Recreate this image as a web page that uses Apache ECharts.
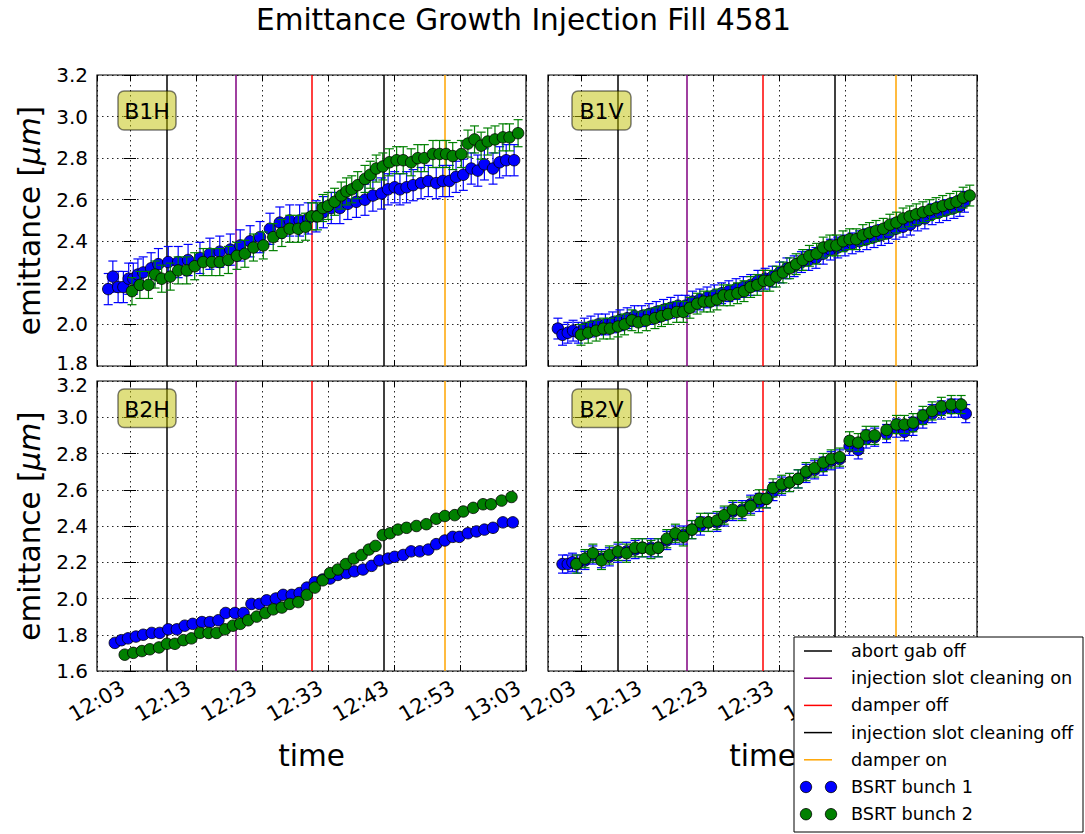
<!DOCTYPE html>
<html>
<head>
<meta charset="utf-8">
<title>Emittance Growth Injection Fill 4581</title>
<script src="https://cdn.jsdelivr.net/npm/echarts@6/dist/echarts.min.js"></script>
<style>
  html, body { margin: 0; padding: 0; background: #ffffff; }
  #chart { width: 1085px; height: 834px; }
</style>
</head>
<body>
<div id="chart"></div>
<script>
// Time is expressed in minutes after 12:03.

// B1H
const b1hTime1 = [-3.3,-2.6,-1.8,-1.0,-0.2,0.5,1.2,2.0,3.2,4.3,5.8,7.3,8.8,10.6,12.1,13.6,15.2,16.7,18.2,19.7,21.2,22.7,24.2,25.7,27.0,28.2,29.3,30.5,31.8,33.0,34.3,35.6,36.8,38.1,39.1,40.1,40.9,41.9,42.9,44.1,45.2,46.4,47.4,48.4,49.4,50.5,51.7,52.7,53.7,55.0,56.0,57.0,58.2];
const b1hBunch1 = [2.17,2.23,2.18,2.18,2.22,2.22,2.24,2.25,2.27,2.29,2.30,2.30,2.31,2.32,2.34,2.35,2.36,2.38,2.40,2.42,2.46,2.49,2.50,2.50,2.51,2.52,2.54,2.56,2.56,2.58,2.59,2.60,2.62,2.63,2.65,2.66,2.65,2.66,2.67,2.68,2.69,2.68,2.69,2.69,2.71,2.72,2.75,2.74,2.77,2.75,2.78,2.79,2.79];
const b1hTime2 = [0.3,1.5,2.8,3.8,4.8,6.1,7.3,8.6,9.8,11.1,12.4,13.6,14.9,16.2,17.4,18.7,20.2,21.7,23.0,24.2,25.5,26.6,27.5,28.4,29.2,30.0,31.0,32.0,32.8,33.6,34.5,35.6,36.4,37.3,38.3,39.3,40.4,41.4,42.6,43.6,44.6,45.9,46.9,47.9,48.9,50.2,51.2,52.2,53.2,54.2,55.3,56.5,57.5,58.8];
const b1hBunch2 = [2.16,2.19,2.19,2.24,2.22,2.23,2.26,2.26,2.28,2.30,2.30,2.30,2.31,2.33,2.34,2.37,2.38,2.42,2.44,2.46,2.46,2.47,2.52,2.52,2.56,2.57,2.59,2.62,2.64,2.65,2.67,2.70,2.72,2.75,2.76,2.78,2.79,2.79,2.78,2.80,2.80,2.82,2.82,2.82,2.81,2.82,2.87,2.89,2.86,2.88,2.89,2.90,2.90,2.92];

// B1V
const b1vTime1 = [-3.5,-2.8,-2.0,-1.2,-0.4,0.5,1.5,2.6,3.7,4.8,5.9,7.0,8.1,9.2,10.3,11.4,12.5,13.6,14.7,15.8,16.9,18.0,19.1,20.2,21.3,22.4,23.5,24.6,25.7,26.8,27.9,29.0,30.1,31.2,32.3,33.4,34.5,35.6,36.7,37.8,38.9,40.0,41.1,42.2,43.3,44.4,45.5,46.6,47.7,48.8,49.9,51.0,52.1,53.2,54.3,55.4,56.5,57.4,58.1];
const b1vBunch1 = [1.98,1.95,1.96,1.97,1.96,1.98,1.99,2.00,2.00,2.01,2.02,2.03,2.04,2.04,2.05,2.06,2.07,2.08,2.09,2.09,2.11,2.12,2.13,2.14,2.15,2.16,2.17,2.18,2.19,2.21,2.22,2.23,2.25,2.27,2.28,2.30,2.31,2.32,2.34,2.36,2.37,2.38,2.39,2.40,2.41,2.42,2.43,2.44,2.46,2.47,2.48,2.50,2.51,2.53,2.54,2.55,2.56,2.57,2.59];
const b1vTime2 = [0.0,1.1,2.3,3.4,4.4,5.6,6.6,7.7,8.7,9.9,11.2,12.2,13.2,14.5,15.5,16.5,17.6,18.6,19.6,20.6,21.6,22.6,23.7,24.7,25.7,26.7,27.7,28.6,29.6,30.6,31.6,32.6,33.6,34.6,35.7,36.7,37.7,38.7,39.7,40.7,41.7,42.7,43.7,44.7,45.8,46.8,47.8,48.8,49.8,50.8,51.8,52.8,53.8,54.8,55.9,56.9,57.9,58.9];
const b1vBunch2 = [1.95,1.96,1.97,1.98,1.98,1.99,2.00,2.02,2.01,2.02,2.03,2.04,2.05,2.06,2.06,2.08,2.10,2.11,2.11,2.12,2.14,2.14,2.15,2.16,2.18,2.19,2.21,2.21,2.23,2.25,2.27,2.29,2.31,2.33,2.34,2.37,2.38,2.38,2.40,2.41,2.41,2.43,2.44,2.45,2.46,2.48,2.49,2.51,2.52,2.53,2.54,2.55,2.56,2.57,2.58,2.59,2.61,2.62];

// B2H
const b2hTime1 = [-2.3,-1.3,-0.3,0.9,2.0,3.3,4.5,5.8,7.1,8.3,9.5,10.9,12.1,13.4,14.5,15.9,17.2,18.4,19.6,20.7,22.1,23.2,24.5,25.7,26.8,28.0,29.2,30.3,31.5,32.8,34.0,35.3,36.6,37.8,39.1,40.1,41.4,42.6,43.9,45.2,46.4,47.7,48.9,49.9,51.2,52.5,53.7,55.0,56.5,58.0];
const b2hBunch1 = [1.755,1.77,1.78,1.79,1.80,1.81,1.81,1.83,1.83,1.85,1.86,1.87,1.87,1.88,1.92,1.92,1.92,1.97,1.97,1.99,2.00,2.02,2.02,2.03,2.06,2.09,2.105,2.11,2.13,2.14,2.15,2.16,2.18,2.21,2.22,2.23,2.24,2.26,2.26,2.27,2.30,2.32,2.34,2.34,2.36,2.37,2.38,2.39,2.42,2.42];
const b2hTime2 = [-0.8,0.5,1.8,3.0,4.4,5.6,6.8,8.1,9.3,10.6,11.9,13.1,14.4,15.6,16.7,17.9,19.2,20.5,21.7,23.0,24.2,25.5,26.8,28.0,29.2,30.3,31.5,32.7,33.9,35.1,36.2,37.2,38.3,39.4,40.6,41.9,43.4,44.9,46.4,47.7,49.2,50.5,52.0,53.5,54.7,56.3,57.8];
const b2hBunch2 = [1.69,1.70,1.71,1.72,1.73,1.75,1.75,1.77,1.78,1.81,1.81,1.81,1.83,1.85,1.86,1.88,1.90,1.92,1.94,1.95,1.97,1.98,2.02,2.06,2.10,2.14,2.16,2.19,2.22,2.24,2.27,2.29,2.35,2.36,2.38,2.39,2.40,2.41,2.44,2.455,2.46,2.48,2.50,2.52,2.52,2.54,2.56];

// B2V
const b2vTime1 = [-2.8,-2.0,-1.3,-0.5,0.6,1.8,3.1,4.3,5.6,6.9,8.2,9.3,10.6,11.7,13.0,14.3,15.5,16.8,18.1,19.3,20.6,21.7,23.0,24.4,25.7,27.0,28.1,29.1,30.4,31.6,32.9,34.1,35.4,36.7,37.9,39.2,40.7,42.0,43.2,44.5,46.3,47.8,49.0,50.3,51.8,53.2,54.6,56.1,57.2,58.3];
const b2vBunch1 = [2.19,2.19,2.20,2.19,2.21,2.24,2.22,2.23,2.25,2.26,2.27,2.28,2.28,2.28,2.32,2.35,2.35,2.38,2.40,2.42,2.42,2.45,2.48,2.49,2.52,2.53,2.55,2.59,2.62,2.64,2.66,2.69,2.71,2.73,2.76,2.77,2.84,2.82,2.88,2.89,2.91,2.94,2.92,2.95,2.99,3.02,3.04,3.05,3.05,3.02];
const b2vTime2 = [-0.7,0.6,1.8,3.1,4.3,5.6,6.9,8.2,9.3,10.6,11.7,13.0,14.3,15.5,16.8,18.1,19.3,20.6,21.7,23.0,24.4,25.7,27.0,28.1,29.1,30.4,31.6,32.9,34.1,35.4,36.7,37.9,39.2,40.7,42.0,43.2,44.5,46.3,47.8,49.0,50.3,51.8,53.2,54.6,56.1,57.6];
const b2vBunch2 = [2.19,2.22,2.25,2.21,2.24,2.26,2.25,2.28,2.28,2.27,2.28,2.33,2.36,2.34,2.38,2.42,2.42,2.43,2.46,2.49,2.48,2.51,2.55,2.55,2.61,2.63,2.64,2.66,2.70,2.72,2.75,2.77,2.78,2.87,2.86,2.90,2.90,2.93,2.96,2.96,2.97,3.01,3.035,3.06,3.07,3.07];

// Half-widths of the error bars (µm)
const errB1H = [0.075, 0.065];
const errB1V = [0.05, 0.05];
const errB2H = [0.018, 0.018];
const errB2V = [0.05, 0.05];

// Machine events (minutes after 12:03)
const eventNames = ['abort gab off', 'injection slot cleaning on', 'damper off', 'injection slot cleaning off', 'damper on'];
const eventTimes = [5.5, 16.0, 27.5, 38.45, 47.65];
const eventColors = ['#000000', '#800080', '#ff0000', '#000000', '#ffa500'];

const bunchNames = ['BSRT bunch 1', 'BSRT bunch 2'];
const bunchColors = ['#0000ff', '#008000'];

const panelNames = ['B1H', 'B1V', 'B2H', 'B2V'];
const timeRange = [-5, 60];
const yRangeTop = [1.8, 3.2];
const yRangeBottom = [1.6, 3.2];

const FONT = 'DejaVu Sans';

const panels = [
  { name: 'B1H', t: [b1hTime1, b1hTime2], v: [b1hBunch1, b1hBunch2], err: errB1H, y: yRangeTop },
  { name: 'B1V', t: [b1vTime1, b1vTime2], v: [b1vBunch1, b1vBunch2], err: errB1V, y: yRangeTop },
  { name: 'B2H', t: [b2hTime1, b2hTime2], v: [b2hBunch1, b2hBunch2], err: errB2H, y: yRangeBottom },
  { name: 'B2V', t: [b2vTime1, b2vTime2], v: [b2vBunch1, b2vBunch2], err: errB2V, y: yRangeBottom }
];

const grids = [
  { left: 97, top: 75, width: 429, height: 291 },
  { left: 548, top: 75, width: 429, height: 291 },
  { left: 97, top: 381, width: 429, height: 290 },
  { left: 548, top: 381, width: 429, height: 290 }
];

function clock(v) {
  if (v < -0.01) return '';
  const m = Math.round(12 * 60 + 3 + v);
  const h = Math.floor(m / 60);
  const mm = m % 60;
  return h + ':' + (mm < 10 ? '0' : '') + mm;
}

// Y tick labels; the touching end labels of the stacked panels are nudged apart a little
function yLabel(range) {
  return function (v) {
    const s = v.toFixed(1);
    if (range === yRangeTop && Math.abs(v - range[0]) < 1e-6) return '{lo|' + s + '}';
    if (range === yRangeBottom && Math.abs(v - range[1]) < 1e-6) return '{hi|' + s + '}';
    return s;
  };
}

const gridLineStyle = { color: '#000', width: 1, type: [1.5, 3.5], opacity: 0.85 };
const tickStyle = { show: true, inside: true, length: 6, lineStyle: { color: '#000', width: 1 } };

const xAxes = [];
const yAxes = [];
panels.forEach((p, i) => {
  const bottomRow = i >= 2;
  const leftCol = i % 2 === 0;
  xAxes.push({
    type: 'value', gridIndex: i, position: 'bottom',
    min: timeRange[0], max: timeRange[1],
    axisLine: { show: false },
    axisTick: tickStyle,
    splitLine: { show: true, lineStyle: gridLineStyle },
    axisLabel: {
      show: bottomRow, rotate: 30, margin: 11, padding: [0, 8, 0, 0], showMinLabel: false,
      fontFamily: FONT, fontSize: 21, color: '#000', formatter: clock
    },
    name: bottomRow ? 'time' : '',
    nameLocation: 'middle', nameGap: 70,
    nameTextStyle: { fontFamily: FONT, fontSize: 29.5, color: '#000' }
  });
  yAxes.push({
    type: 'value', gridIndex: i, position: 'left',
    min: p.y[0], max: p.y[1], interval: 0.2,
    axisLine: { show: false },
    axisTick: tickStyle,
    splitLine: { show: true, lineStyle: gridLineStyle },
    axisLabel: {
      show: leftCol, margin: 9, fontFamily: FONT, fontSize: 20, color: '#000',
      formatter: yLabel(p.y),
      rich: {
        lo: { fontFamily: FONT, fontSize: 20, color: '#000', padding: [0, 0, 7, 0] },
        hi: { fontFamily: FONT, fontSize: 20, color: '#000', padding: [7, 0, 0, 0] }
      }
    },
    name: leftCol ? 'emittance [{it|μm}]' : '',
    nameLocation: 'middle', nameRotate: 90, nameGap: 52,
    nameTextStyle: {
      fontFamily: FONT, fontSize: 29.5, color: '#000',
      rich: { it: { fontFamily: FONT, fontSize: 29.5, fontStyle: 'italic', color: '#000' } }
    }
  });
});
// Tick marks on the opposite frame edges
panels.forEach((p, i) => {
  xAxes.push({
    type: 'value', gridIndex: i, position: 'top',
    min: timeRange[0], max: timeRange[1],
    axisLine: { show: false }, axisTick: tickStyle,
    splitLine: { show: false }, axisLabel: { show: false }
  });
  yAxes.push({
    type: 'value', gridIndex: i, position: 'right',
    min: p.y[0], max: p.y[1], interval: 0.2,
    axisLine: { show: false }, axisTick: tickStyle,
    splitLine: { show: false }, axisLabel: { show: false }
  });
});

function errorBarRenderer(color) {
  return function (params, api) {
    const x = api.value(0), y = api.value(1), e = api.value(2);
    const hi = api.coord([x, y + e]);
    const lo = api.coord([x, y - e]);
    const cap = 4.5;
    const style = { stroke: color, lineWidth: 1.2 };
    return {
      type: 'group',
      children: [
        { type: 'line', shape: { x1: hi[0], y1: hi[1], x2: lo[0], y2: lo[1] }, style },
        { type: 'line', shape: { x1: hi[0] - cap, y1: hi[1], x2: hi[0] + cap, y2: hi[1] }, style },
        { type: 'line', shape: { x1: lo[0] - cap, y1: lo[1], x2: lo[0] + cap, y2: lo[1] }, style }
      ]
    };
  };
}

const series = [];
panels.forEach((p, i) => {
  // vertical event markers
  series.push({
    type: 'line', xAxisIndex: i, yAxisIndex: i, data: [], silent: true, z: 1,
    markLine: {
      z: 1, silent: true, symbol: 'none', animation: false,
      label: { show: false },
      data: eventTimes.map((t, k) => ({ xAxis: t, lineStyle: { color: eventColors[k], width: 1.5, type: 'solid' } }))
    }
  });
  [0, 1].forEach(b => {
    const errData = p.t[b].map((t, k) => [t, p.v[b][k], p.err[b]]);
    const ptData = p.t[b].map((t, k) => [t, p.v[b][k]]);
    series.push({
      type: 'custom', name: bunchNames[b] + ' ' + p.name + ' err', xAxisIndex: i, yAxisIndex: i,
      renderItem: errorBarRenderer(bunchColors[b]), data: errData, z: 2 + b * 2, silent: true,
      encode: { x: 0, y: 1 }
    });
    series.push({
      type: 'scatter', name: bunchNames[b], xAxisIndex: i, yAxisIndex: i,
      data: ptData, symbol: 'circle', symbolSize: 11.5, z: 3 + b * 2, silent: true,
      itemStyle: { color: bunchColors[b], borderColor: '#000', borderWidth: 0.8, opacity: 1 }
    });
  });
});

// Panel tags
const tagBoxes = [
  { x: 118, y: 91, w: 58, h: 39 },
  { x: 572, y: 91, w: 59, h: 39 },
  { x: 118, y: 389, w: 58, h: 38.5 },
  { x: 572, y: 389, w: 59, h: 38.5 }
];
const graphics = [];
panelNames.forEach((n, i) => {
  const b = tagBoxes[i];
  graphics.push({ type: 'rect', z: 50, shape: { x: b.x, y: b.y, width: b.w, height: b.h, r: 6 },
    style: { fill: 'rgba(191,191,0,0.5)', stroke: 'rgba(0,0,0,0.5)', lineWidth: 1.5 } });
  graphics.push({ type: 'text', z: 51, style: { text: n, x: b.x + b.w / 2, y: b.y + b.h / 2 + 1, align: 'center', verticalAlign: 'middle',
    fontFamily: FONT, fontSize: 22, fill: '#000' } });
});

// Legend box
const legendX = 794, legendY = 637, legendW = 289, legendH = 195;
const rowY0 = 651, rowStep = 27.2;
graphics.push({ type: 'rect', z: 100, shape: { x: legendX, y: legendY, width: legendW, height: legendH },
  style: { fill: '#ffffff', stroke: '#000', lineWidth: 1 } });
eventNames.forEach((n, k) => {
  const y = rowY0 + k * rowStep;
  graphics.push({ type: 'line', z: 101, shape: { x1: 804, y1: y, x2: 832, y2: y },
    style: { stroke: eventColors[k], lineWidth: 1.5 } });
  graphics.push({ type: 'text', z: 101, style: { text: n, x: 851, y: y, verticalAlign: 'middle',
    fontFamily: FONT, fontSize: 17.7, fill: '#000' } });
});
bunchNames.forEach((n, b) => {
  const y = rowY0 + (5 + b) * rowStep;
  [806, 831].forEach(cx => graphics.push({ type: 'circle', z: 101, shape: { cx: cx, cy: y, r: 5.7 },
    style: { fill: bunchColors[b], stroke: '#000', lineWidth: 0.8 } }));
  graphics.push({ type: 'text', z: 101, style: { text: n, x: 851, y: y, verticalAlign: 'middle',
    fontFamily: FONT, fontSize: 17.7, fill: '#000' } });
});

const option = {
  backgroundColor: '#ffffff',
  animation: false,
  title: {
    text: 'Emittance Growth Injection Fill 4581', left: 251, top: 0,
    textStyle: { fontFamily: FONT, fontSize: 29.5, fontWeight: 'normal', color: '#000' }
  },
  grid: grids.map(g => Object.assign({ show: true, borderColor: '#000', borderWidth: 1.2, backgroundColor: 'transparent' }, g)),
  xAxis: xAxes,
  yAxis: yAxes,
  series: series,
  graphic: graphics
};

const chart = echarts.init(document.getElementById('chart'), null, { renderer: 'svg' });
chart.setOption(option);
</script>
</body>
</html>
